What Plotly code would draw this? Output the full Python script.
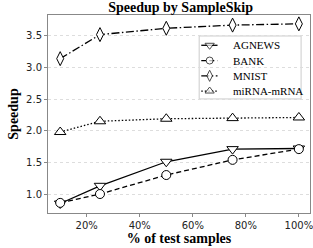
import plotly.graph_objects as go

x_pct = [10, 25, 50, 75, 100]
agnews = [0.85, 1.13, 1.51, 1.71, 1.72]
bank = [0.86, 1.00, 1.30, 1.54, 1.71]
mnist = [3.14, 3.52, 3.62, 3.67, 3.69]
mirna = [1.98, 2.15, 2.19, 2.20, 2.21]

names = ["AGNEWS", "BANK", "MNIST", "miRNA-mRNA"]
values = [agnews, bank, mnist, mirna]
dashes = ["solid", "5px,3px", "8px,2.5px,1.5px,2.5px", "1.5px,2px"]
symbols = ["triangle-down", "circle", "diamond-tall", "triangle-up"]
sizes = [10, 9, 10, 10]
x_ticks = [20, 40, 60, 80, 100]
x_ticktext = ["20%", "40%", "60%", "80%", "100%"]
y_ticks = [1.0, 1.5, 2.0, 2.5, 3.0, 3.5]
y_ticktext = ["1.0", "1.5", "2.0", "2.5", "3.0", "3.5"]

fig = go.Figure()
for name, vals, dash, sym, sz in zip(names, values, dashes, symbols, sizes):
    fig.add_trace(go.Scatter(
        x=x_pct, y=vals, name=name, mode="lines+markers", showlegend=False,
        line=dict(color="black", width=1.3, dash=dash),
        marker=dict(symbol=sym, size=sz, color="white",
                    line=dict(color="black", width=1)),
    ))

# custom compact legend (on an overlay axis spanning the plot area, 0..1)
leg_x0, leg_x1 = 0.577, 0.966
leg_y0, leg_y1 = 0.576, 0.894
row_y = [0.847, 0.770, 0.693, 0.616]
sample_x = [0.585, 0.617, 0.647]
text_x = 0.700
fig.add_shape(type="rect", xref="paper", yref="paper",
              x0=leg_x0, x1=leg_x1, y0=leg_y0, y1=leg_y1,
              fillcolor="white", line=dict(color="#cccccc", width=1),
              layer="between")
for name, dash, sym, sz, ry in zip(names, dashes, symbols, sizes, row_y):
    fig.add_trace(go.Scatter(
        x=sample_x, y=[ry] * 3, xaxis="x2", yaxis="y2", mode="lines+markers",
        showlegend=False, hoverinfo="skip",
        line=dict(color="black", width=1.3, dash=dash),
        marker=dict(symbol=sym, size=[0, sz - 2, 0], color="white",
                    line=dict(color="black", width=[0, 1, 0])),
    ))
    fig.add_annotation(x=text_x, y=ry, xref="paper", yref="paper",
                       text=name, showarrow=False, xanchor="left",
                       yanchor="middle",
                       font=dict(family="Liberation Serif", size=11,
                                 color="black"))

fig.update_layout(
    width=313, height=248,
    margin=dict(l=48, r=0, t=15, b=35),
    paper_bgcolor="white", plot_bgcolor="white",
    title=dict(text="<b>Speedup by SampleSkip</b>", x=0.577, xanchor="center",
               y=0.99, yanchor="top",
               font=dict(family="Liberation Serif", size=14, color="black")),
    showlegend=False,
    font=dict(family="DejaVu Sans", size=10, color="#222222"),
    xaxis=dict(
        range=[5.4, 104.2], tickvals=x_ticks, ticktext=x_ticktext,
        ticks="outside", ticklen=3, tickcolor="#888888",
        ticklabeloverflow="allow",
        showgrid=False, zeroline=False,
        showline=True, linecolor="#888888", linewidth=1, mirror=True,
        title=dict(text="<b>% of test samples</b>", standoff=1,
                   font=dict(family="Liberation Serif", size=14,
                             color="black")),
    ),
    yaxis=dict(
        range=[0.70, 3.83], tickvals=y_ticks, ticktext=y_ticktext,
        ticks="outside", ticklen=3, tickcolor="#888888",
        showgrid=True, gridcolor="#dddddd", griddash="dot", gridwidth=1,
        zeroline=False,
        showline=True, linecolor="#888888", linewidth=1, mirror=True,
        title=dict(text="<b>Speedup</b>", standoff=4,
                   font=dict(family="Liberation Serif", size=14,
                             color="black")),
    ),
    xaxis2=dict(overlaying="x", range=[0, 1], visible=False, fixedrange=True),
    yaxis2=dict(overlaying="y", range=[0, 1], visible=False, fixedrange=True),
)

fig.write_html("out.html", config={"displayModeBar": False},
               post_script="document.body.style.margin='0';")
